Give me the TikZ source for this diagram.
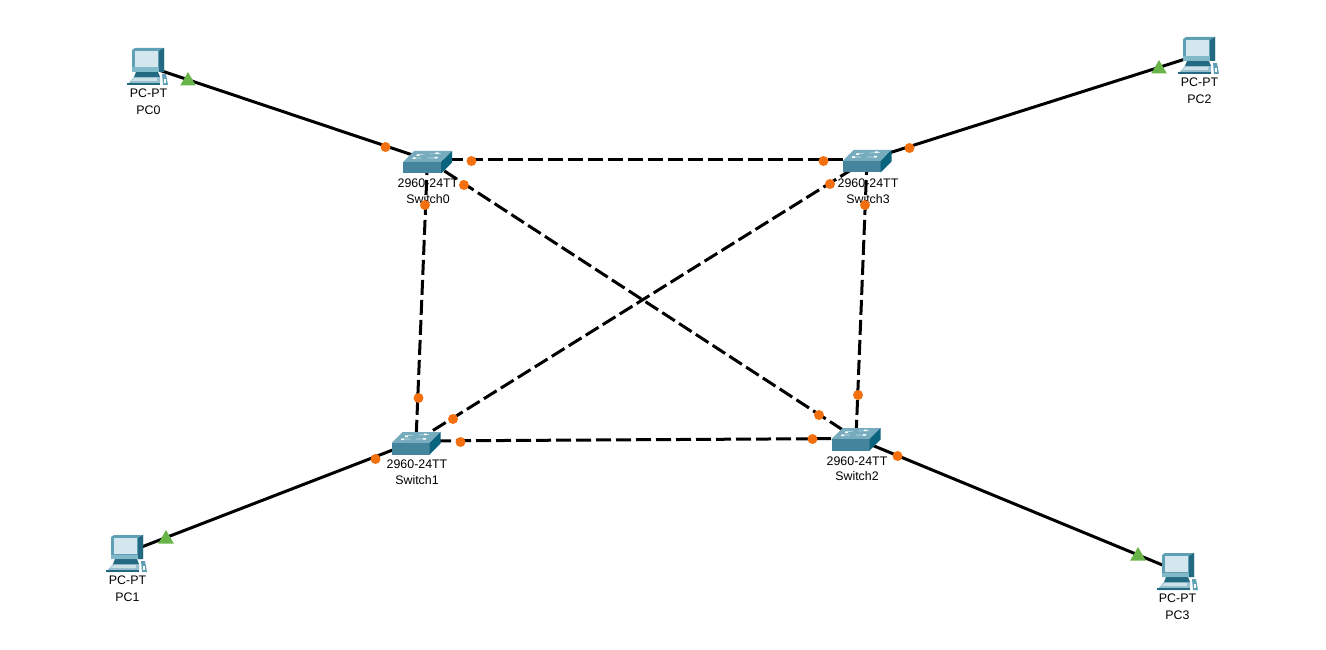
\documentclass[tikz,border=0pt]{standalone}
\usepackage{fontspec}
\usetikzlibrary{shapes.geometric}
\setmainfont{Liberation Sans}
\begin{document}
\begin{tikzpicture}[x=1pt,y=-1pt,
  dev/.style={inner sep=0pt,minimum size=0pt},
  lab/.style={font=\fontsize{12.4}{14}\selectfont,text=black,inner sep=0pt,align=center},
  link/.style={line width=3pt,black},
  xlink/.style={link,dash pattern=on 15pt off 5pt},
  dot/.style={circle,fill=orangedot,draw=none,inner sep=0pt,minimum size=10pt},
  up/.style={regular polygon,regular polygon sides=3,fill=greenup,draw=none,inner sep=0pt,minimum size=18pt},
  pics/pcicon/.style={code={
    \fill[kbd] (-20,19) -- (-13,11) -- (13,11) -- (13,19) -- cycle;
    \fill[case2] (-20,17) -- (13,17) -- (13,19) -- (-20,19) -- cycle;
    \fill[kbdl] (-16,15) -- (-12,12) -- (10,12) -- (10,15) -- cycle;
    \fill[case2] (-11,6) -- (11,6) -- (13,11) -- (-13,11) -- cycle;
    \fill[case1] (-15,-16) -- (-12,-18) -- (17,-18) -- (17,6) -- (-15,6) -- cycle;
    \fill[case2] (12,-15) -- (17,-18) -- (17,6) -- (12,6) -- cycle;
    \fill[caselt] (-15,1.5) rectangle (12,6);
    \fill[screen] (-12,-15) rectangle (11,1);
    \fill[case1] (15,8) -- (19,8) -- (21,19) -- (16,19) -- cycle;
    \fill[white] (17,13) -- (19,13) -- (19,17) -- (17,17) -- cycle;
  }},
  pics/swicon/.style={code={
    \fill[swtop] (-13.5,-11) -- (24.5,-11) -- (13.5,0) -- (-24.5,0) -- cycle;
    \fill[swfront] (-24.5,0) -- (13.5,0) -- (13.5,11.5) -- (-24.5,11.5) -- cycle;
    \fill[swside] (13.5,0) -- (24.5,-11) -- (24.5,0.5) -- (13.5,11.5) -- cycle;
    \draw[swmark,line width=.6pt] (-11,-7) -- (-3,-8) (3,-8) -- (13,-8.5) (-14,-4) -- (-6,-4) (0,-4) -- (9,-4);
    \fill[white] (-11,-7.5) rectangle (-8,-6) (8,-9.5) rectangle (11,-8) (-15,-4.5) rectangle (-12,-3) (7,-5) rectangle (10,-3.5);
  }}
]
\definecolor{orangedot}{RGB}{244,112,14}
\definecolor{greenup}{RGB}{104,180,72}
\definecolor{kbd}{RGB}{150,190,205}
\definecolor{kbdl}{RGB}{205,225,232}
\definecolor{case1}{RGB}{96,160,180}
\definecolor{caselt}{RGB}{130,185,200}
\definecolor{case2}{RGB}{35,105,130}
\definecolor{screen}{RGB}{212,230,238}
\definecolor{swtop}{RGB}{118,172,190}
\definecolor{swfront}{RGB}{68,132,156}
\definecolor{swside}{RGB}{10,100,125}
\definecolor{swmark}{RGB}{200,225,232}
\useasboundingbox (0,0) rectangle (1326,650);
\fill[white] (0,0) rectangle (1326,650);
% device anchors
\node[dev] (pc0) at (147,66) {};
\node[dev] (pc1) at (126,553) {};
\node[dev] (pc2) at (1198,55) {};
\node[dev] (pc3) at (1177,571) {};
\node[dev] (s0) at (427.5,160) {};
\node[dev] (s1) at (416,441) {};
\node[dev] (s2) at (856,438.5) {};
\node[dev] (s3) at (867,160) {};
% links
\draw[link] (pc0.center) -- (s0.center);
\draw[link] (pc1.center) -- (s1.center);
\draw[link] (pc2.center) -- (s3.center);
\draw[link] (pc3.center) -- (s2.center);
\draw[xlink] (s0.center) -- (s3.center);
\draw[xlink] (s0.center) -- (s1.center);
\draw[xlink] (s0.center) -- (s2.center);
\draw[xlink] (s1.center) -- (s2.center);
\draw[xlink] (s1.center) -- (s3.center);
\draw[xlink] (s3.center) -- (s2.center);
% icons
\foreach \n in {pc0,pc1,pc2,pc3} \path (\n.center) pic {pcicon};
\path ([yshift=-2pt]s0.center) pic {swicon};
\path ([yshift=-2pt]s1.center) pic {swicon};
\path ([yshift=-0.5pt]s2.center) pic {swicon};
\path ([yshift=-1pt]s3.center) pic {swicon};
% labels
\node[lab] (l0) at (148.5,101.5) {PC-PT\\[3pt]PC0};
\node[lab] (l1) at (127.5,588.5) {PC-PT\\[3pt]PC1};
\node[lab] (l2) at (1199.5,90.5) {PC-PT\\[3pt]PC2};
\node[lab] (l3) at (1177.5,606.5) {PC-PT\\[3pt]PC3};
\node[lab] (l4) at (428,191) {2960-24TT\\[1.5pt]Switch0};
\node[lab] (l5) at (417,472) {2960-24TT\\[1.5pt]Switch1};
\node[lab] (l6) at (857,468.5) {2960-24TT\\[1.5pt]Switch2};
\node[lab] (l7) at (868,191) {2960-24TT\\[1.5pt]Switch3};
% link lights
\foreach \i/\x/\y in {a/385.5/147,b/471.5/161,c/464/185,d/425/205,e/823.5/161,f/830/184,g/865/205,h/909.5/148,i/418.5/398,j/453/419,k/375.5/459,l/460.5/442,m/812.5/439,n/819/415,o/858/395,p/897.5/456}
  \node[dot] (d\i) at (\x,\y) {};
\node[up] (t0) at (188,81) {};
\node[up] (t1) at (166,539) {};
\node[up] (t2) at (1159,69) {};
\node[up] (t3) at (1138,556) {};
\end{tikzpicture}
\end{document}
